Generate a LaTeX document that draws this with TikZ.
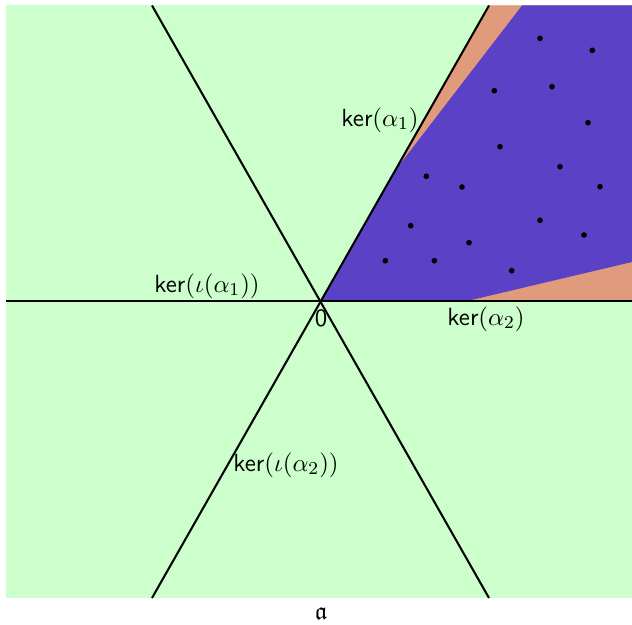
\documentclass[tikz,border=0pt]{standalone}
\usepackage{amssymb}
\usetikzlibrary{calc}
\definecolor{bggreen}{RGB}{204,255,204}
\definecolor{wedge}{RGB}{224,154,124}
\definecolor{chamber}{RGB}{91,65,198}
\begin{document}
\begin{tikzpicture}[x=0.44pt,y=-0.44pt,
  kline/.style={black,line width=0.9pt},
  lbl/.style={inner sep=0pt,font=\fontsize{10.95}{13}\selectfont\sffamily},
  pt/.style={fill=black,circle,inner sep=0pt,minimum size=2.5pt}]
\useasboundingbox (0,0) rectangle (632,625);
\fill[bggreen] (6,5.5) rectangle (632,598);
\coordinate (O) at (321,301);
\coordinate (L) at (6,301);
\coordinate (R) at (632,301);
\coordinate (A1) at (489,5.5);
\coordinate (A1b) at (152,598);
\coordinate (B1) at (152,5.5);
\coordinate (B1b) at (489,598);
\fill[wedge] (O) -- (R) -- (632,5.5) -- (A1) -- cycle;
\fill[chamber] (O) -- ($(O)!0.4433!(A1)$) -- (522,5.5) -- (632,5.5) -- (632,262) -- (467,301) -- cycle;
\draw[kline] (L) -- (R);
\draw[kline] (A1) -- (A1b);
\draw[kline] (B1) -- (B1b);
\foreach \x/\y [count=\i] in {540/38.3,592.3/50.3,494.3/90.7,552/86.7,588/122.7,500/146.7,560/166.7,600/186.7,426.3/176.3,462/187,410.7/225.7,469/242.7,540/220.3,584/235,385.3/260.7,434.3/260.7,511.7/270.7}
  \node[pt] (d\i) at (\x,\y) {};
\node[lbl] (ka1) at (380,120) {ker$(\alpha_1)$};
\node[lbl] (kia1) at (207,286) {ker$(\iota(\alpha_1))$};
\node[lbl] (zero) at (321,318) {0};
\node[lbl] (ka2) at (486,319) {ker$(\alpha_2)$};
\node[lbl] (kia2) at (286,465) {ker$(\iota(\alpha_2))$};
\node[lbl] (a) at (321,614) {$\mathfrak{a}$};
\end{tikzpicture}
\end{document}
